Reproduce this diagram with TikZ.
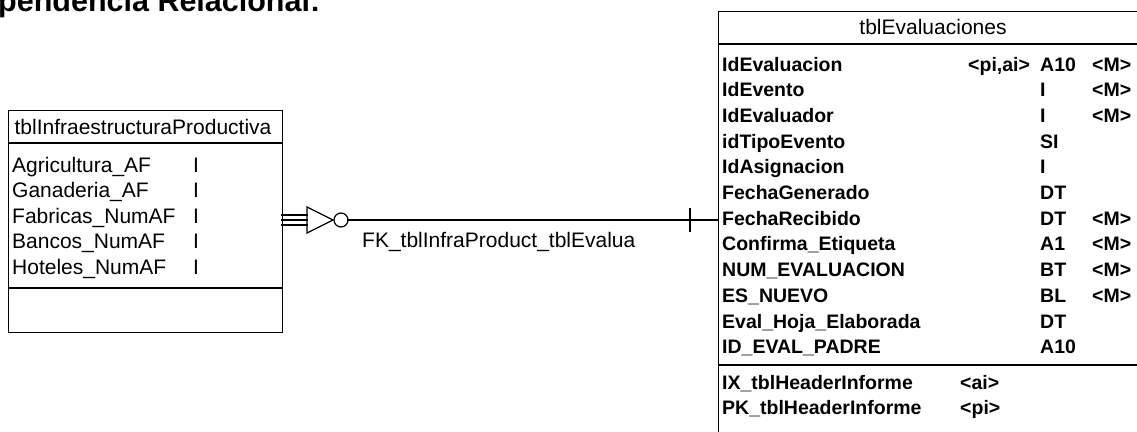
\documentclass[tikz,border=0pt]{standalone}
\usepackage{fontspec}
\setmainfont{Liberation Sans}
\begin{document}
\begin{tikzpicture}[x=1pt,y=-1pt,
  ln/.style={line width=1.2pt,line cap=rect},
  tblbox/.style={draw,line width=1.3pt,inner sep=0pt,anchor=north west},
  txt/.style={inner sep=0pt,anchor=base west,font=\fontsize{21}{24}\selectfont},
  btxt/.style={inner sep=0pt,anchor=base west,font=\fontsize{19.5}{22}\selectfont\bfseries},
  ttl/.style={inner sep=0pt,anchor=base,font=\fontsize{21}{24}\selectfont}]
\clip (0,0) rectangle (1137,431);
\fill[white] (0,0) rectangle (1137,431);
% heading (cut off at top)
\node[inner sep=0pt,anchor=base west,font=\fontsize{30.5}{32}\selectfont\bfseries] (head) at (-2,11) {pendencia Relacional:};
% left table
\node[tblbox,minimum width=274pt,minimum height=222pt] (infra) at (8,110) {};
\draw[line width=1.2pt] (8,143) -- (282,143);
\draw[line width=1.2pt] (8,288) -- (282,288);
\node[ttl] (infraT) at (143,134) {tblInfraestructuraProductiva};
\foreach \n [count=\i] in {Agricultura\_AF,Ganaderia\_AF,Fabricas\_NumAF,Bancos\_NumAF,Hoteles\_NumAF}{
  \node[txt] (ia\i) at (12,{172+25.5*(\i-1)}) {\n};
  \node[txt] (it\i) at (193,{172+25.5*(\i-1)}) {I};
}
% right table
\node[tblbox,minimum width=460pt,minimum height=450pt] (eval) at (718,11) {};
\draw[line width=1.2pt] (718,44) -- (1137,44);
\draw[line width=1.2pt] (718,365) -- (1137,365);
\node[ttl] (evalT) at (933,34) {tblEvaluaciones};
\foreach \n/\k/\t/\m [count=\i] in {
  IdEvaluacion/{<pi,ai>}/A10/<M>,
  IdEvento//I/<M>,
  IdEvaluador//I/<M>,
  idTipoEvento//SI/,
  IdAsignacion//I/,
  FechaGenerado//DT/,
  FechaRecibido//DT/<M>,
  Confirma\_Etiqueta//A1/<M>,
  NUM\_EVALUACION//BT/<M>,
  ES\_NUEVO//BL/<M>,
  Eval\_Hoja\_Elaborada//DT/,
  ID\_EVAL\_PADRE//A10/}{
  \node[btxt] (en\i) at (722,{71+25.7*(\i-1)}) {\n};
  \node[btxt] (ek\i) at (968,{71+25.7*(\i-1)}) {\k};
  \node[btxt] (et\i) at (1040,{71+25.7*(\i-1)}) {\t};
  \node[btxt] (em\i) at (1092,{71+25.7*(\i-1)}) {\m};
}
\node[btxt] (ix1) at (722,389) {IX\_tblHeaderInforme};
\node[btxt] (ix1k) at (960,389) {<ai>};
\node[btxt] (ix2) at (722,414) {PK\_tblHeaderInforme};
\node[btxt] (ix2k) at (960,414) {<pi>};
% relationship
\coordinate (fkL) at (282,220);
\coordinate (fkR) at (718,220);
\draw[ln] (fkL) ++(0,-5) -- ++(25,0);
\draw[ln] (fkL) -- ++(25,0);
\draw[ln] (fkL) ++(0,5) -- ++(25,0);
\draw[ln,line join=miter] (fkL) ++(25,-13) -- ++(0,26) -- ++(26,-13) -- cycle;
\draw[ln] (fkL) ++(59,0) circle[radius=7pt];
\draw[ln] (fkL) ++(66,0) -- (fkR);
\draw[ln] (fkR) ++(-28,-11) -- ++(0,22);
\node[inner sep=0pt,anchor=base west,font=\fontsize{21}{24}\selectfont] (fk) at (362,247) {FK\_tblInfraProduct\_tblEvalua};
\end{tikzpicture}
\end{document}
